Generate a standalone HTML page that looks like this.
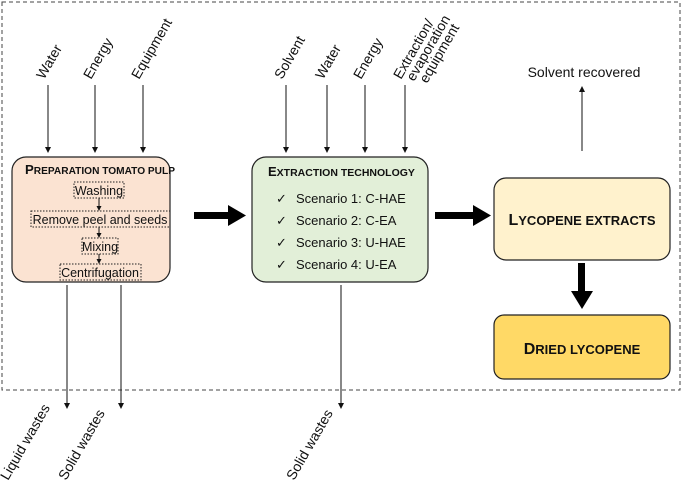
<!DOCTYPE html>
<html><head><style>body{margin:0;background:#fff}svg{display:block}text{font-family:"Liberation Sans",sans-serif;fill:#111}</style></head>
<body>
<svg width="685" height="483" viewBox="0 0 685 483" xmlns="http://www.w3.org/2000/svg">
<defs>
<marker id="a" markerWidth="6" markerHeight="6" refX="5" refY="3" orient="auto" markerUnits="userSpaceOnUse"><path d="M0,0 L6,3 L0,6 z" fill="#111"/></marker>
<marker id="s" markerWidth="5" markerHeight="5" refX="4" refY="2.5" orient="auto" markerUnits="userSpaceOnUse"><path d="M0,0 L5,2.5 L0,5 z" fill="#111"/></marker>
</defs>
<rect x="2" y="2" width="678" height="388" fill="none" stroke="#444" stroke-dasharray="4,3" stroke-width="1"/>
<g stroke="#111" stroke-width="1" marker-end="url(#a)">
<line x1="48" y1="85" x2="48" y2="152"/><line x1="95" y1="85" x2="95" y2="152"/><line x1="143" y1="85" x2="143" y2="152"/>
<line x1="286" y1="85" x2="286" y2="152"/><line x1="327" y1="85" x2="327" y2="152"/><line x1="365" y1="85" x2="365" y2="152"/><line x1="405" y1="85" x2="405" y2="152"/>
<line x1="67" y1="285" x2="67" y2="408"/><line x1="121" y1="285" x2="121" y2="408"/><line x1="341" y1="285" x2="341" y2="408"/>
<line x1="582" y1="151" x2="582" y2="87"/>
</g>
<g font-size="14">
<text transform="translate(44,80) rotate(-60)">Water</text>
<text transform="translate(91,80) rotate(-60)">Energy</text>
<text transform="translate(139,80) rotate(-60)">Equipment</text>
<text transform="translate(282,80) rotate(-60)">Solvent</text>
<text transform="translate(323,80) rotate(-60)">Water</text>
<text transform="translate(361,80) rotate(-60)">Energy</text>
<text transform="translate(401,80) rotate(-60)">Extraction/</text>
<text transform="translate(414,82) rotate(-60)">evaporation</text>
<text transform="translate(427,84) rotate(-60)">equipment</text>
<text transform="translate(8,481) rotate(-60)">Liquid wastes</text>
<text transform="translate(66,481) rotate(-60)">Solid wastes</text>
<text transform="translate(294,481) rotate(-60)">Solid wastes</text>
<text x="584" y="77" text-anchor="middle">Solvent recovered</text>
</g>
<rect x="12" y="157" width="158" height="125" rx="14" fill="#fbe3d2" stroke="#222" stroke-width="1.2"/>
<text x="25" y="174" font-weight="bold" font-size="13" textLength="150" lengthAdjust="spacingAndGlyphs">P<tspan font-size="10">REPARATION TOMATO PULP</tspan></text>
<g fill="none" stroke="#222" stroke-dasharray="1.5,1.5" stroke-width="1">
<rect x="74" y="182" width="50" height="16"/><rect x="31" y="211" width="139" height="16"/><rect x="82" y="238" width="36" height="16"/><rect x="60" y="264" width="81" height="16"/>
</g>
<g font-size="12.5" text-anchor="middle">
<text x="99" y="195">Washing</text><text x="100" y="224">Remove peel and seeds</text><text x="100" y="251">Mixing</text><text x="100" y="277">Centrifugation</text>
</g>
<g stroke="#111" stroke-width="1" marker-end="url(#s)">
<line x1="99" y1="198" x2="99" y2="210"/><line x1="99" y1="227" x2="99" y2="237"/><line x1="99" y1="254" x2="99" y2="263"/>
</g>
<rect x="252" y="157" width="176" height="125" rx="14" fill="#e2efd8" stroke="#222" stroke-width="1.2"/>
<text x="268" y="176" font-weight="bold" font-size="13">E<tspan font-size="10.5">XTRACTION TECHNOLOGY</tspan></text>
<g font-size="13">
<text x="276" y="203">✓</text><text x="296" y="203">Scenario 1: C-HAE</text>
<text x="276" y="225">✓</text><text x="296" y="225">Scenario 2: C-EA</text>
<text x="276" y="247">✓</text><text x="296" y="247">Scenario 3: U-HAE</text>
<text x="276" y="269">✓</text><text x="296" y="269">Scenario 4: U-EA</text>
</g>
<rect x="494" y="178" width="176" height="82" rx="12" fill="#fff2cd" stroke="#222" stroke-width="1.2"/>
<text x="582" y="225" text-anchor="middle" font-weight="bold" font-size="16">L<tspan font-size="13">YCOPENE EXTRACTS</tspan></text>
<rect x="494" y="315" width="176" height="64" rx="10" fill="#ffd966" stroke="#222" stroke-width="1.2"/>
<text x="582" y="354" text-anchor="middle" font-weight="bold" font-size="16">D<tspan font-size="13">RIED LYCOPENE</tspan></text>
<g fill="#000">
<rect x="194" y="212" width="36" height="7"/><path d="M228,205 L246,215.5 L228,226 z"/>
<rect x="435" y="212" width="40" height="7"/><path d="M473,205 L491,215.5 L473,226 z"/>
<rect x="578" y="263" width="7" height="30"/><path d="M571,291 L582,309 L593,291 z"/>
</g>
</svg>
</body></html>
